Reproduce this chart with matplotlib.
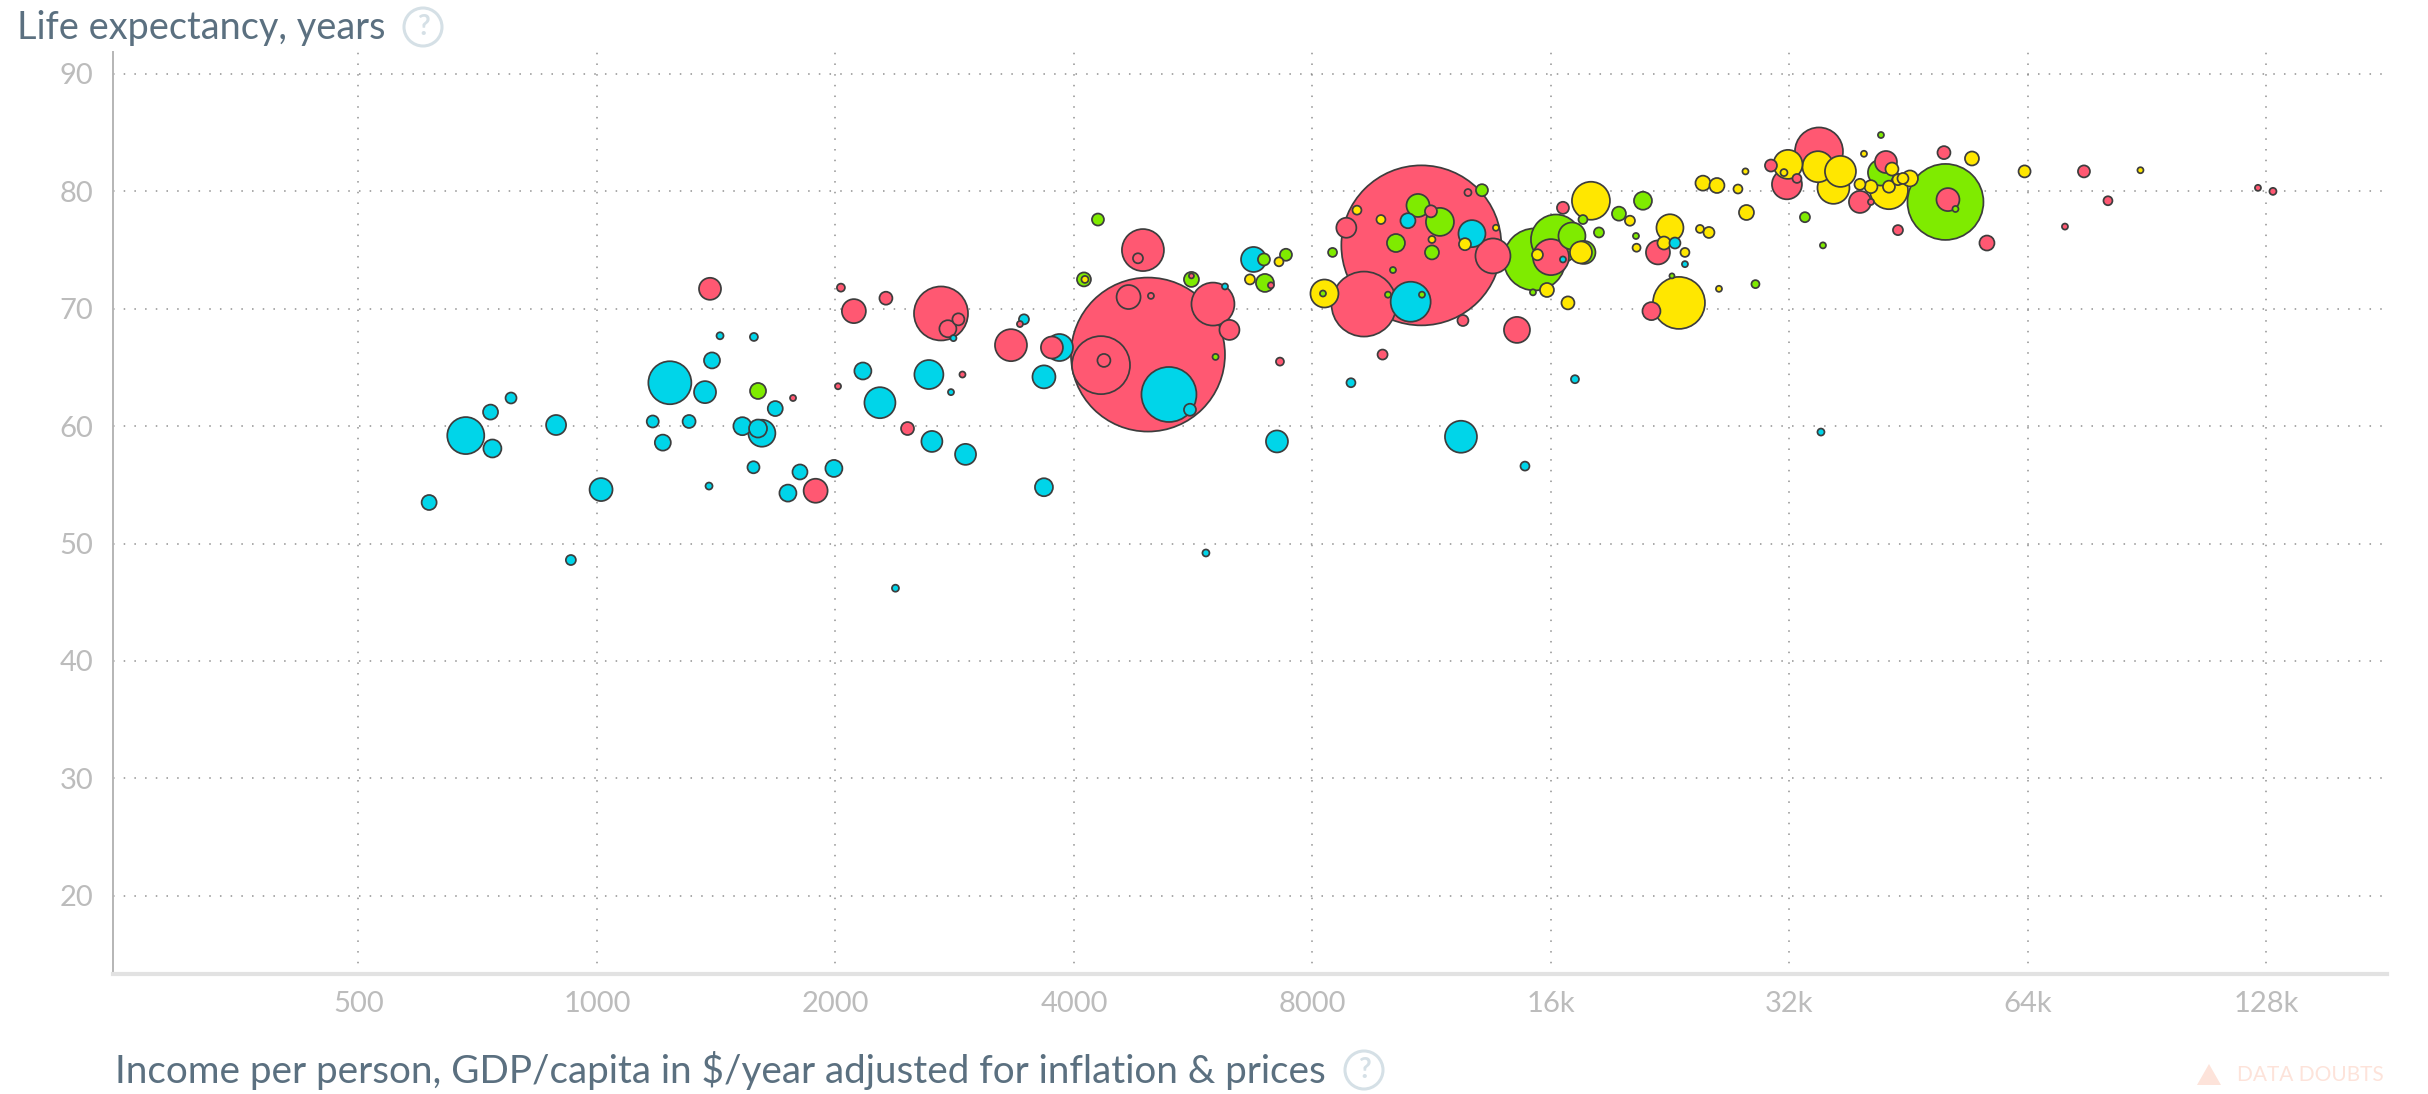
import numpy as np
import matplotlib
matplotlib.use("Agg")
import matplotlib.pyplot as plt
from matplotlib.patches import Circle, Polygon
from matplotlib.ticker import NullLocator

income = [1389, 2032, 2110, 2316, 2718, 2773, 2859, 3419, 2818, 3459, 3331, 1430, 1578, 1397, 1236, 1369, 1597, 1768, 2015, 2166, 2624, 2893, 2798, 2276, 2466, 1679, 779,
          734, 683, 738, 888, 1176, 1307, 1211, 1526, 1597, 1615, 1576, 1804, 1991, 1742, 1888, 1385, 1012, 614, 927, 2381, 2647, 2919, 3666, 3666, 3752, 3835, 4289, 4118,
          4130, 4888, 4818, 4960, 4688, 5003, 4327, 4364, 5272, 5604, 6036, 5628, 5628, 5991, 6285, 6204, 6741, 6948, 7258, 7407, 6671, 6968, 7091, 7279, 7216, 8284, 8248,
          9292, 10978, 8481, 8828, 9105, 9762, 10197, 10109, 10871, 11289, 11588, 10559, 11322, 11322, 12571, 13093, 12718, 12462, 13636, 13518, 10642, 9963, 10998, 12389,
          9808, 8947, 12318, 14836, 14495, 15255, 16234, 17007, 17611, 17458, 16000, 15384, 16568, 16568, 17972, 17559, 18395, 19496, 20129, 20905, 20484, 20519, 16810, 15815,
          15185, 17156, 22611, 21836, 22220, 22942, 23618, 23618, 24671, 25325, 24887, 25920, 27552, 28159, 28241, 22743, 23210, 21427, 26072, 28989, 34865, 31768, 31861,
          30325, 34763, 37113, 36365, 31493, 32705, 39736, 41748, 39277, 40553, 39277, 40553, 41748, 42359, 43105, 42730, 42730, 43863, 44505, 45420, 50356, 50723, 51841,
          50137, 54387, 56811, 43863, 33474, 35272, 35068, 63371, 75312, 88751, 80752, 71266, 124877, 130441, 5870]
life_exp = [71.7, 71.8, 69.8, 70.9, 69.6, 68.3, 69.1, 68.7, 67.5, 69.1, 66.9, 67.7, 67.6, 65.6, 63.7, 62.9, 63.0, 62.4, 63.4, 64.7, 64.4, 64.4, 62.9, 62.0, 59.8, 61.5, 62.4,
            61.2, 59.2, 58.1, 60.1, 60.4, 60.4, 58.6, 60.0, 59.8, 59.4, 56.5, 56.1, 56.4, 54.3, 54.5, 54.9, 54.6, 53.5, 48.6, 46.2, 58.7, 57.6, 64.2, 54.8, 66.7, 66.7, 77.6,
            72.5, 72.5, 75.0, 74.3, 66.1, 71.0, 71.1, 65.2, 65.6, 62.7, 61.4, 65.9, 72.5, 72.8, 70.4, 68.2, 71.9, 74.2, 74.2, 74.0, 74.6, 72.5, 72.2, 72.0, 65.5, 58.7, 71.3,
            71.3, 70.4, 75.4, 74.8, 76.9, 78.4, 77.6, 75.6, 73.3, 78.8, 78.3, 77.4, 77.5, 75.9, 74.8, 79.9, 80.1, 76.4, 75.5, 76.9, 74.5, 70.6, 71.2, 71.2, 69.0, 66.1, 63.7,
            59.1, 56.6, 68.2, 74.2, 75.9, 76.2, 74.8, 74.8, 74.4, 74.6, 74.2, 78.6, 79.2, 77.6, 76.5, 78.1, 77.5, 79.2, 76.2, 75.2, 70.5, 71.6, 71.4, 64.0, 76.9, 74.8, 75.6,
            75.6, 74.8, 73.8, 76.8, 76.5, 80.7, 80.5, 80.2, 81.7, 78.2, 72.8, 70.5, 69.8, 71.7, 72.1, 83.4, 80.6, 82.3, 82.2, 82.1, 81.7, 80.3, 81.6, 81.1, 83.2, 84.8, 80.6,
            80.4, 79.1, 79.1, 81.6, 82.5, 81.9, 80.1, 80.4, 81.0, 81.1, 81.1, 79.1, 79.3, 78.5, 83.3, 82.8, 75.6, 76.7, 77.8, 75.4, 59.5, 81.7, 81.7, 81.8, 79.2, 77.0, 80.3,
            80.0, 49.2]
# population in millions (China = 1400)
population = [26.5, 3.5, 31.5, 9.2, 159.5, 15.8, 7.9, 2.0, 2.0, 5.5, 56.0, 2.7, 3.5, 14.0, 101.1, 26.5, 14.0, 2.0, 2.0, 15.8, 46.0, 2.0, 2.0, 52.6, 9.2, 12.3, 6.6, 12.3, 74.9,
              17.7, 21.9, 7.9, 9.2, 14.0, 17.7, 17.7, 39.9, 7.9, 12.3, 15.8, 15.8, 31.5, 2.7, 28.9, 12.3, 5.5, 2.7, 24.1, 24.1, 28.9, 17.7, 26.5, 39.9, 7.9, 10.7, 2.7, 96.5, 5.5,
              1297.0, 31.5, 2.0, 184.0, 9.2, 165.4, 7.9, 2.0, 12.3, 1.4, 101.1, 21.9, 2.0, 34.2, 7.9, 4.4, 7.9, 5.5, 17.7, 2.0, 3.5, 26.5, 42.9, 2.0, 231.1, 1400.0, 4.4, 21.9,
              4.4, 4.4, 17.7, 2.0, 28.9, 7.9, 42.9, 12.3, 2.7, 10.7, 2.7, 7.9, 39.9, 7.9, 2.0, 67.0, 87.5, 2.0, 2.0, 6.6, 5.5, 4.4, 56.0, 4.4, 37.0, 210.2, 136.7, 39.9, 28.9,
              26.5, 70.9, 6.6, 2.0, 7.9, 79.0, 4.4, 5.5, 10.7, 5.5, 17.7, 2.0, 3.5, 9.2, 10.7, 2.0, 3.5, 39.9, 31.5, 9.2, 6.6, 4.4, 2.0, 3.5, 6.6, 12.3, 12.3, 4.4, 2.0, 12.3, 1.4,
              147.9, 17.7, 2.0, 3.5, 126.0, 49.2, 46.0, 7.9, 52.6, 52.6, 56.0, 2.7, 4.4, 2.0, 2.0, 6.6, 9.2, 26.5, 2.0, 37.0, 26.5, 9.2, 79.0, 7.9, 6.6, 6.6, 14.0, 315.9, 28.9,
              2.0, 9.2, 10.7, 12.3, 5.5, 5.5, 2.0, 2.7, 7.9, 7.9, 2.0, 4.4, 2.0, 2.0, 2.7, 2.7]
region = list("ppppppppccpcccccgppccpccpccccccccccccccccpcccccccccpcggypppppppccggpppccgygygppcygppgpyygggpgcygpgcyypcggppcccpggggypycpygggyggyyygcypycycyyyyyyygypygppypyyyypygyyppgpyyyyyygpgpyppggcypyppppc")

x_ticks = [500, 1000, 2000, 4000, 8000, 16000, 32000, 64000, 128000]
x_labels = ["500", "1000", "2000", "4000", "8000", "16k", "32k", "64k", "128k"]
y_ticks = [20, 30, 40, 50, 60, 70, 80, 90]

COLORS = {"c": "#00D5E9", "p": "#FF5872", "g": "#7FEB00", "y": "#FFE700"}

W, H = 2428, 1094
plt.rcParams["font.family"] = ["Lato", "DejaVu Sans"]
fig = plt.figure(figsize=(W / 100, H / 100), dpi=100)

ax = fig.add_axes([113 / W, 1 - 974 / H, (2387 - 113) / W, (974 - 52) / H])
ax.set_xscale("log", base=2)
ax.set_xlim(245, 181700)
ax.set_ylim(13.34, 91.87)
ax.set_xticks(x_ticks)
ax.set_xticklabels(x_labels)
ax.xaxis.set_minor_locator(NullLocator())
ax.set_yticks(y_ticks)
ax.tick_params(length=0, labelsize=21, labelcolor="#bcbcbc", pad=12)
ax.tick_params(axis="y", pad=14)
ax.grid(True, color="#7d7d7d", lw=1.1, ls=(0, (1, 6)), alpha=0.85)
ax.set_axisbelow(True)
for s in ["top", "right"]:
    ax.spines[s].set_visible(False)
ax.spines["left"].set_color("#b5b5b5")
ax.spines["left"].set_linewidth(1.4)
ax.spines["bottom"].set_color("#e2e2e2")
ax.spines["bottom"].set_linewidth(3)

# biggest first so the small countries stay visible on top
income = np.array(income)
life_exp = np.array(life_exp)
population = np.array(population)
order = np.argsort(-population, kind="stable")
ax.scatter(income[order], life_exp[order], s=population[order] * 9.479,
           c=[COLORS[region[i]] for i in order], edgecolors="#3d3d3d", linewidths=1.25,
           zorder=3)

# labels and icons sit outside the plot area, pixel coords are easier here
ov = fig.add_axes([0, 0, 1, 1], facecolor="none")
ov.set_xlim(0, W)
ov.set_ylim(H, 0)
ov.axis("off")
ov.text(17, 28, "Life expectancy, years", fontsize=27.3, color="#5b7080", va="center")
ov.text(115, 1070, "Income per person, GDP/capita in $/year adjusted for inflation & prices",
        fontsize=27.85, color="#5b7080", va="center")
for cx, cy in [(423, 27), (1364, 1070)]:
    ov.add_patch(Circle((cx, cy), 19, fc="none", ec="#d5e0e6", lw=2.2))
    ov.text(cx, cy, "?", fontsize=20, color="#d5e0e6", ha="center", va="center", fontweight="bold")
ov.add_patch(Polygon([[2197, 1085], [2221, 1085], [2209, 1064]], fc="#fde3da", ec="none"))
ov.text(2237, 1075, "DATA DOUBTS", fontsize=15, color="#fde3da", va="center")

fig.savefig("out.png", dpi=100)
